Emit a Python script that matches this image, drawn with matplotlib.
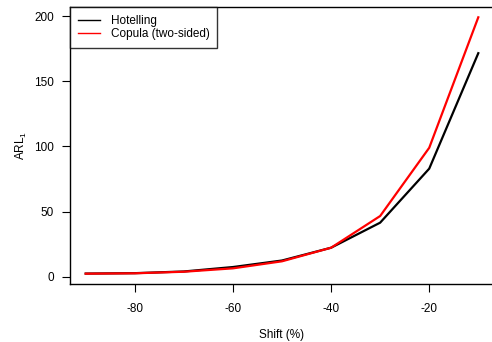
import matplotlib
matplotlib.use("Agg")
import matplotlib.pyplot as plt

plt.rcParams['font.family'] = ['Liberation Sans', 'DejaVu Sans']
plt.rcParams['axes.unicode_minus'] = False

shift = [-90, -80, -70, -60, -50, -40, -30, -20, -10]
hotelling = [2.6, 2.9, 4.2, 7.6, 12.6, 22.4, 41.6, 83.0, 171.5]
copula = [2.5, 2.8, 4.0, 6.6, 12.0, 22.4, 46.7, 99.0, 199.0]
xticks = [-80, -60, -40, -20]
yticks = [0, 50, 100, 150, 200]

fig = plt.figure(figsize=(4.92, 3.42), dpi=100)
ax = fig.add_axes([70/492, 58/342, 424/492, 277/342])

ax.plot(shift, hotelling, color='black', lw=1.6, label='Hotelling')
ax.plot(shift, copula, color='red', lw=1.6, label='Copula (two-sided)')

ax.set_xlim(-93.2, -6.8)
ax.set_ylim(-5.4, 206.9)
ax.set_xticks(xticks)
ax.set_yticks(yticks)
ax.tick_params(axis='both', direction='out', length=5.5, width=0.8, labelsize=8.5,
               colors='black', pad=6)
ax.tick_params(axis='x', pad=8)
for s in ax.spines.values():
    s.set_linewidth(1.0)

ax.set_xlabel('Shift (%)', fontsize=8.5, labelpad=10)
ax.set_ylabel(r'$\mathregular{ARL_1}$', fontsize=8.5, labelpad=4)

leg = ax.legend(loc='upper left', fontsize=8.5, frameon=True, fancybox=False,
                edgecolor='black', borderaxespad=0, handlelength=1.9,
                handletextpad=0.9, borderpad=0.65, labelspacing=0.12)
leg.get_frame().set_linewidth(1.0)
for h in leg.get_lines():
    h.set_linewidth(1.0)

fig.savefig('out.png', dpi=100)
